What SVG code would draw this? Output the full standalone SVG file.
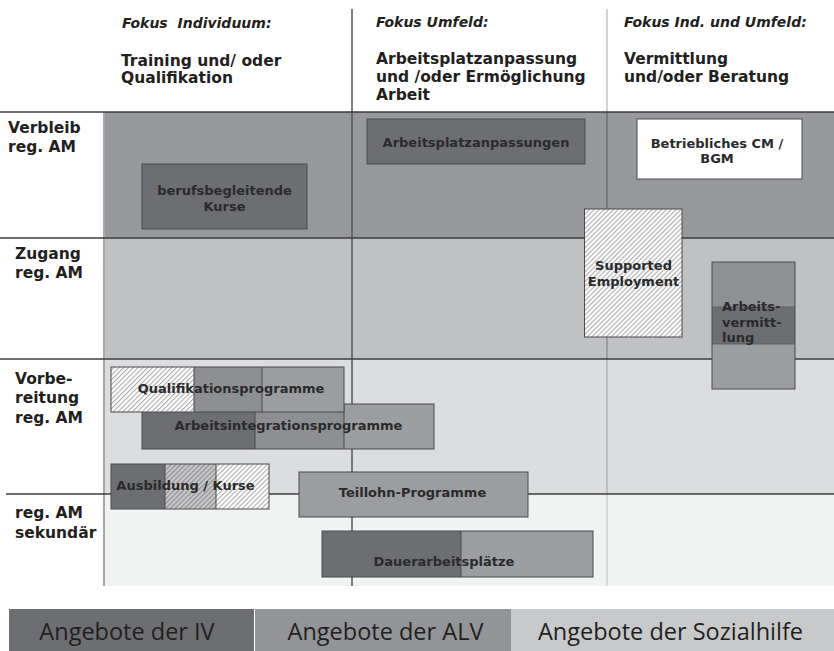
<svg xmlns="http://www.w3.org/2000/svg" width="834" height="651" viewBox="0 0 834 651">
<defs>
<pattern id="hatch" width="3.4" height="3.4" patternUnits="userSpaceOnUse" patternTransform="rotate(45)">
<rect width="3.4" height="3.4" fill="#ffffff"/>
<line x1="0.6" y1="0" x2="0.6" y2="3.4" stroke="#a4a4a6" stroke-width="1"/>
</pattern>
<pattern id="hatchDark" width="3.4" height="3.4" patternUnits="userSpaceOnUse" patternTransform="rotate(45)">
<rect width="3.4" height="3.4" fill="#c6c6c8"/>
<line x1="0.6" y1="0" x2="0.6" y2="3.4" stroke="#8a8a8c" stroke-width="1"/>
</pattern>
<style>
.hd{font-family:"DejaVu Sans",Verdana,sans-serif;font-weight:bold;font-size:15.5px;fill:#231f20}
.fk{font-family:"DejaVu Sans",Verdana,sans-serif;font-weight:bold;font-style:italic;font-size:14px;fill:#231f20}
.bx{font-family:"DejaVu Sans",Verdana,sans-serif;font-weight:bold;font-size:13px;fill:#2a2a2c}
.c{text-anchor:middle}
.lg{font-family:"Open Sans","Noto Sans",sans-serif;font-size:23.5px;fill:#231f20;text-anchor:middle}
.box{stroke:#4a4a4c;stroke-width:1}
.dk{fill:#6d6e71}
.md{fill:#8e8f92}
.lt{fill:#9c9da0}
.h{fill:url(#hatch)}
.hdk{fill:url(#hatchDark)}
.hl{stroke:#3c3c3e;stroke-width:1.5}
</style>
</defs>
<rect width="834" height="651" fill="#ffffff"/>
<g id="bands">
<rect x="104" y="112" width="730" height="126" fill="#97989b"/>
<rect x="104" y="238" width="730" height="121" fill="#c0c1c3"/>
<rect x="104" y="359" width="730" height="135" fill="#dcdddf"/>
<rect x="104" y="494" width="730" height="92" fill="#f1f2f2"/>
</g>
<g id="grid">
<line x1="104" y1="112" x2="104" y2="586" stroke="#a6a7a9" stroke-width="2"/>
<line x1="352" y1="9" x2="352" y2="586" stroke="#555658" stroke-width="1.5"/>
<line x1="607" y1="9" x2="607" y2="112" stroke="#c4c4c6" stroke-width="1.5"/>
<line x1="607" y1="112" x2="607" y2="238" stroke="#6e6f72" stroke-width="1.5"/>
<line x1="607" y1="238" x2="607" y2="359" stroke="#8f9093" stroke-width="1.5"/>
<line x1="607" y1="359" x2="607" y2="494" stroke="#b3b4b6" stroke-width="1.5"/>
<line x1="607" y1="494" x2="607" y2="586" stroke="#d0d1d2" stroke-width="1.5"/>
<line class="hl" x1="0" y1="112" x2="834" y2="112"/>
<line class="hl" x1="0" y1="238" x2="834" y2="238"/>
<line class="hl" x1="0" y1="359" x2="834" y2="359"/>
<line class="hl" x1="6" y1="494" x2="834" y2="494"/>
</g>
<g id="col-headers">
<text class="fk" x="122" y="28" xml:space="preserve">Fokus  Individuum:</text>
<text class="hd" x="121" y="66">Training und/ oder</text>
<text class="hd" x="121" y="83">Qualifikation</text>
<text class="fk" x="376" y="27">Fokus Umfeld:</text>
<text class="hd" x="376" y="64">Arbeitsplatzanpassung</text>
<text class="hd" x="376" y="82">und /oder Ermöglichung</text>
<text class="hd" x="376" y="100">Arbeit</text>
<text class="fk" x="624" y="27">Fokus Ind. und Umfeld:</text>
<text class="hd" x="624" y="64">Vermittlung</text>
<text class="hd" x="624" y="82">und/oder Beratung</text>
</g>
<g id="row-headers">
<text class="hd" x="8" y="133">Verbleib</text>
<text class="hd" x="8" y="152">reg. AM</text>
<text class="hd" x="15" y="259">Zugang</text>
<text class="hd" x="15" y="278">reg. AM</text>
<text class="hd" x="15" y="384">Vorbe-</text>
<text class="hd" x="15" y="403">reitung</text>
<text class="hd" x="15" y="423">reg. AM</text>
<text class="hd" x="15" y="518">reg. AM</text>
<text class="hd" x="15" y="538">sekundär</text>
</g>
<g id="berufsbegleitende-kurse">
<rect class="box dk" x="142" y="164" width="165" height="65"/>
<text class="bx c" x="224.5" y="195">berufsbegleitende</text>
<text class="bx c" x="224.5" y="211">Kurse</text>
</g>
<g id="arbeitsplatzanpassungen">
<rect class="box dk" x="367" y="119" width="218" height="45"/>
<text class="bx c" x="476" y="147">Arbeitsplatzanpassungen</text>
</g>
<g id="betriebliches-cm">
<rect class="box" x="637" y="119" width="165" height="60" fill="#ffffff"/>
<text class="bx c" x="717" y="148">Betriebliches CM /</text>
<text class="bx c" x="717" y="163">BGM</text>
</g>
<g id="supported-employment">
<rect class="box h" x="584.5" y="209" width="97.5" height="128" stroke="#6a6a6c"/>
<text class="bx c" x="633.5" y="270">Supported</text>
<text class="bx c" x="633.5" y="286">Employment</text>
</g>
<g id="arbeitsvermittlung">
<rect x="712" y="262" width="83" height="45" fill="#8f9093"/>
<rect x="712" y="307" width="83" height="37" fill="#6d6e71"/>
<rect x="712" y="344" width="83" height="45" fill="#9c9da0"/>
<line x1="712" y1="307" x2="795" y2="307" stroke="#5a5a5c" stroke-width="0.8"/>
<line x1="712" y1="344" x2="795" y2="344" stroke="#5a5a5c" stroke-width="0.8"/>
<rect x="712" y="262" width="83" height="127" fill="none" class="box"/>
<text class="bx" x="722" y="311">Arbeits-</text>
<text class="bx" x="722" y="327">vermitt-</text>
<text class="bx" x="722" y="342">lung</text>
</g>
<g id="arbeitsintegrationsprogramme">
<rect class="dk" x="142" y="404" width="113" height="45"/>
<rect class="md" x="255" y="404" width="89" height="45"/>
<rect class="lt" x="344" y="404" width="90" height="45"/>
<line x1="255" y1="404" x2="255" y2="449" stroke="#4a4a4c"/>
<line x1="344" y1="404" x2="344" y2="449" stroke="#4a4a4c"/>
<rect class="box" x="142" y="404" width="292" height="45" fill="none"/>
<text class="bx c" x="288.5" y="430">Arbeitsintegrationsprogramme</text>
</g>
<g id="qualifikationsprogramme">
<rect class="h" x="111" y="367" width="83" height="45"/>
<rect class="md" x="194" y="367" width="68" height="45"/>
<rect class="lt" x="262" y="367" width="82" height="45"/>
<line x1="194" y1="367" x2="194" y2="412" stroke="#4a4a4c"/>
<line x1="262" y1="367" x2="262" y2="412" stroke="#4a4a4c"/>
<rect class="box" x="111" y="367" width="233" height="45" fill="none"/>
<text class="bx c" x="231" y="393">Qualifikationsprogramme</text>
</g>
<g id="ausbildung-kurse">
<rect class="dk" x="111" y="464" width="54" height="45"/>
<rect class="hdk" x="165" y="464" width="51" height="45"/>
<rect class="h" x="216" y="464" width="53" height="45"/>
<line x1="165" y1="464" x2="165" y2="509" stroke="#4a4a4c"/>
<line x1="216" y1="464" x2="216" y2="509" stroke="#4a4a4c"/>
<rect class="box" x="111" y="464" width="158" height="45" fill="none"/>
<text class="bx c" x="185.5" y="490">Ausbildung / Kurse</text>
</g>
<g id="teillohn-programme">
<rect class="box lt" x="299" y="472" width="229" height="45"/>
<text class="bx c" x="412.5" y="497">Teillohn-Programme</text>
</g>
<g id="dauerarbeitsplaetze">
<rect class="dk" x="322" y="531" width="139" height="46"/>
<rect class="lt" x="461" y="531" width="132" height="46"/>
<line x1="461" y1="531" x2="461" y2="577" stroke="#4a4a4c"/>
<rect class="box" x="322" y="531" width="271" height="46" fill="none"/>
<text class="bx c" x="444" y="566">Dauerarbeitsplätze</text>
</g>
<g id="legend">
<rect x="9" y="609" width="245" height="42" fill="#6d6e71"/>
<rect x="255" y="609" width="256" height="42" fill="#939497"/>
<rect x="511" y="609" width="323" height="42" fill="#c8c9cb"/>
<text class="lg" x="127" y="640">Angebote der IV</text>
<text class="lg" x="385.5" y="640">Angebote der ALV</text>
<text class="lg" x="670.5" y="640">Angebote der Sozialhilfe</text>
</g>
</svg>
